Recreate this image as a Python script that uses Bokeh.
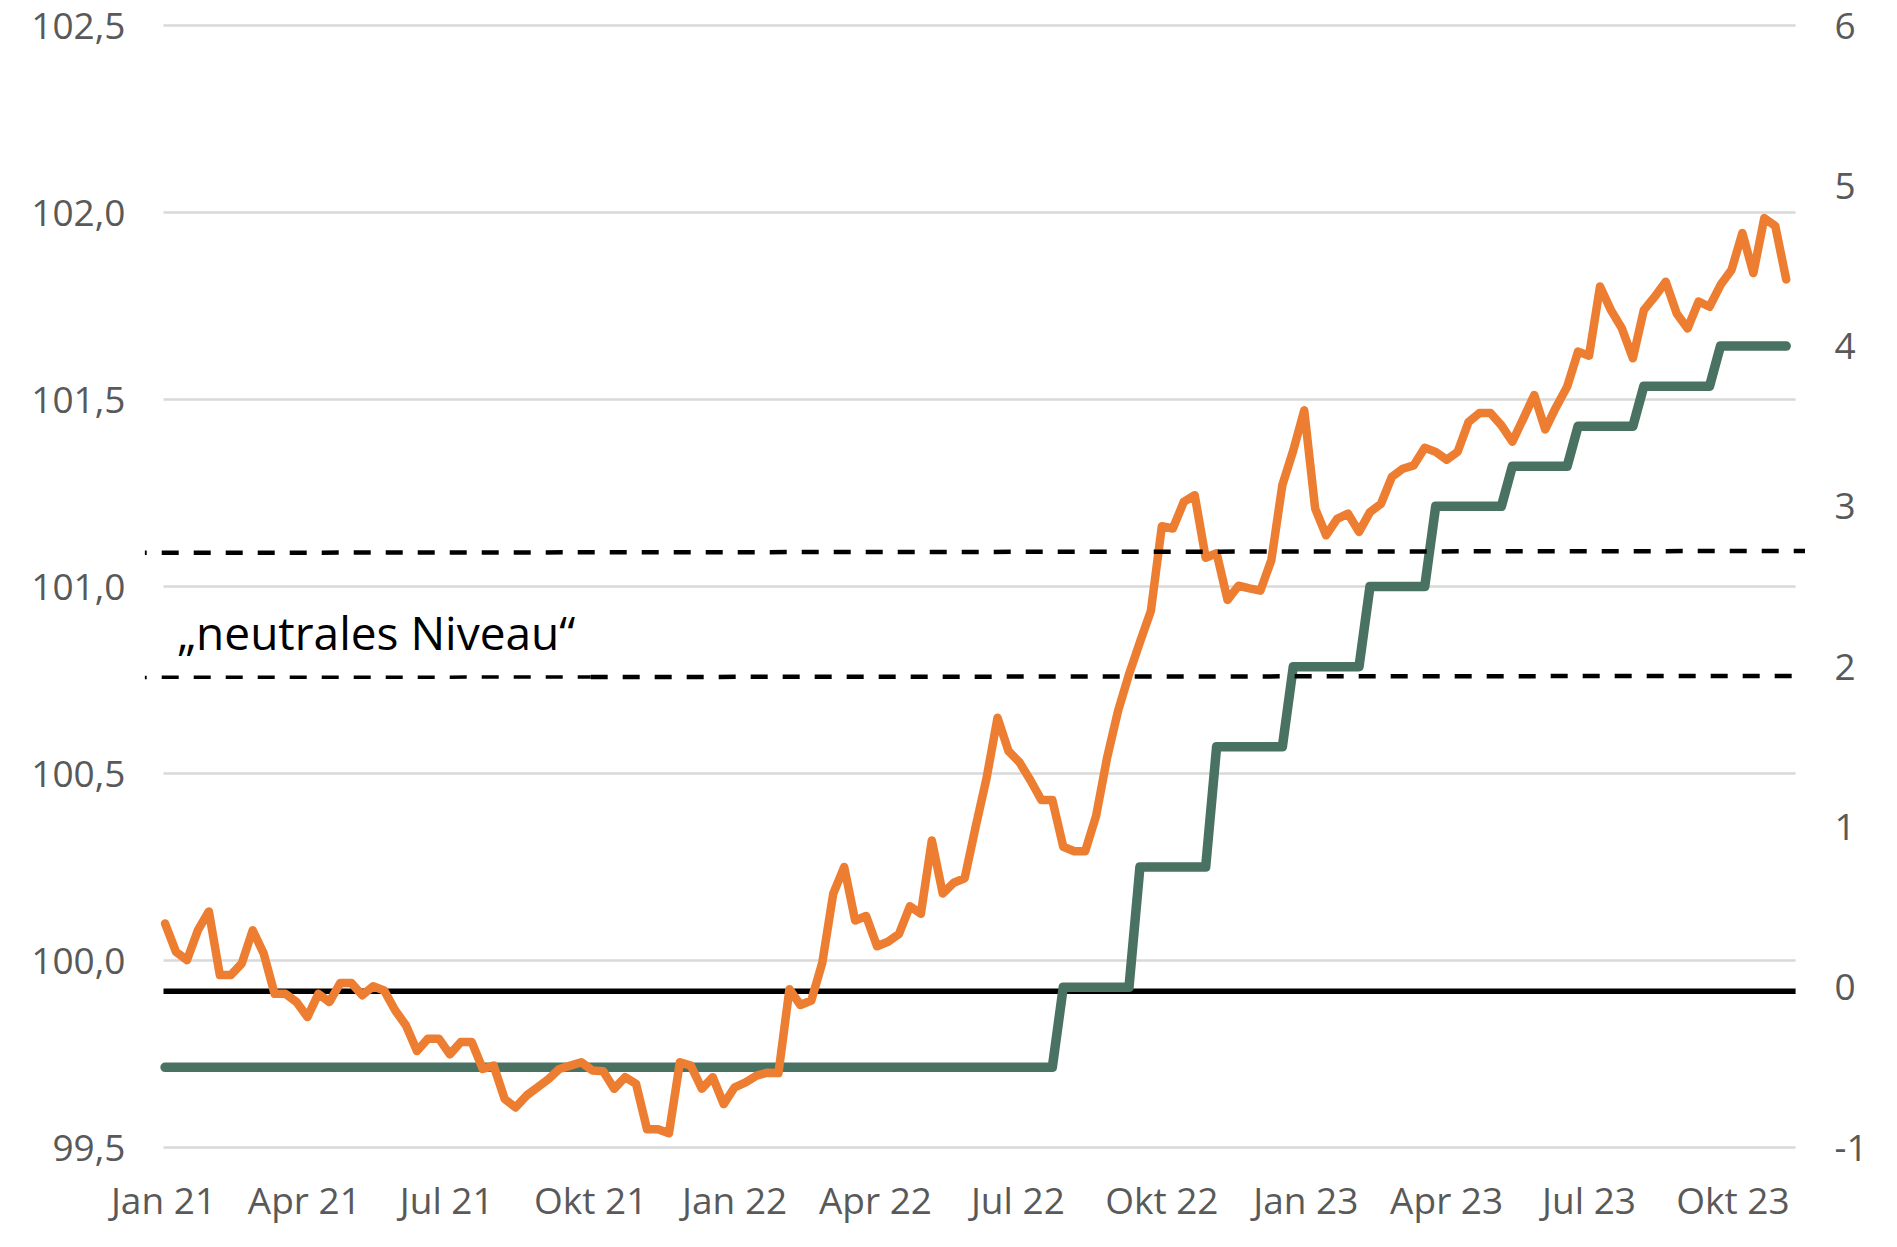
import pandas as pd
from bokeh.plotting import figure
from bokeh.models import Range1d, LinearAxis, FixedTicker, CustomJSTickFormatter
from bokeh.core.properties import value
from bokeh.embed import file_html
from bokeh.resources import INLINE

# ---------------- data ----------------
# weekly observations, first week 2021-01-02
first_week = "2021-01-02"

index_values = [
    100.099, 100.023, 100.001, 100.081, 100.131, 99.961, 99.961, 99.992, 100.081, 100.019,
    99.911, 99.911, 99.889, 99.849, 99.911, 99.889, 99.940, 99.940, 99.907, 99.931,
    99.920, 99.867, 99.826, 99.758, 99.791, 99.791, 99.749, 99.782, 99.782, 99.710,
    99.719, 99.630, 99.607, 99.639, 99.661, 99.683, 99.710, 99.719, 99.728, 99.706,
    99.704, 99.657, 99.688, 99.670, 99.549, 99.549, 99.538, 99.728, 99.719, 99.657,
    99.688, 99.616, 99.661, 99.674, 99.692, 99.700, 99.699, 99.923, 99.881, 99.893,
    99.994, 100.179, 100.250, 100.107, 100.119, 100.038, 100.050, 100.071, 100.145, 100.125,
    100.321, 100.179, 100.208, 100.220, 100.357, 100.488, 100.649, 100.560, 100.530, 100.482,
    100.429, 100.429, 100.304, 100.292, 100.292, 100.387, 100.542, 100.667, 100.765, 100.851,
    100.935, 101.161, 101.155, 101.226, 101.244, 101.077, 101.089, 100.964, 101.002, 100.995,
    100.989, 101.071, 101.271, 101.364, 101.471, 101.208, 101.137, 101.181, 101.195, 101.146,
    101.199, 101.221, 101.293, 101.315, 101.324, 101.371, 101.360, 101.339, 101.360, 101.440,
    101.464, 101.464, 101.431, 101.387, 101.449, 101.512, 101.420, 101.480, 101.534, 101.628,
    101.617, 101.802, 101.739, 101.690, 101.610, 101.739, 101.775, 101.815, 101.730, 101.690,
    101.762, 101.748, 101.806, 101.846, 101.945, 101.838, 101.985, 101.964, 101.821,
]

# ECB deposit facility rate, weekly (right axis)
deposit_rate = ([-0.5] * 82 + [0.0] * 7 + [0.75] * 7 + [1.5] * 7 + [2.0] * 7 + [2.5] * 6
                + [3.0] * 7 + [3.25] * 6 + [3.5] * 6 + [3.75] * 7 + [4.0] * 7)

# "neutrales Niveau" band (left-axis units), start / end
neutral_dates = ["2020-12-20", "2023-11-16"]
neutral_upper = [101.090, 101.095]
neutral_lower_a_dates = ["2020-12-20", "2021-10-01"]
neutral_lower_a = [100.757, 100.758]
neutral_lower_b_dates = ["2021-10-01", "2023-11-16"]
neutral_lower_b = [100.758, 100.761]
annotation = "„neutrales Niveau“"

tick_dates = ["2021-01-01", "2021-04-01", "2021-07-01", "2021-10-01",
              "2022-01-01", "2022-04-01", "2022-07-01", "2022-10-01",
              "2023-01-01", "2023-04-01", "2023-07-01", "2023-10-01"]
tick_labels = ["Jan 21", "Apr 21", "Jul 21", "Okt 21", "Jan 22", "Apr 22", "Jul 22",
               "Okt 22", "Jan 23", "Apr 23", "Jul 23", "Okt 23"]
left_ticks = [99.5, 100.0, 100.5, 101.0, 101.5, 102.0, 102.5]
right_ticks = [-1, 0, 1, 2, 3, 4, 5, 6]

# ---------------- helpers ----------------
def ms(ts):
    return int(pd.Timestamp(ts).value // 10**6)

DAY = 86400000
dates = pd.date_range(first_week, periods=len(index_values), freq="7D")
x = [ms(d) for d in dates]
t0 = ms("2021-01-01")
grid_x0, grid_x1 = t0, ms("2023-11-10")

FONT = "Open Sans"
LABEL_COLOR = "#595959"

p = figure(frame_width=1662, frame_height=1132,
           x_range=Range1d(t0 - 12.14 * DAY, t0 + 1049.97 * DAY),
           y_range=Range1d(99.5 - 5 / 374, 102.5 + 5 / 374),
           x_axis_type=None, y_axis_type=None, title=None,
           output_backend="svg", toolbar_location=None,
           min_border_left=144, min_border_right=80,
           min_border_top=20, min_border_bottom=85)
p.outline_line_color = None
p.background_fill_color = "white"
p.border_fill_color = "white"
p.extra_y_ranges = {"rate": Range1d(-1 - 5 / 160.29, 6 + 5 / 160.29)}

def style_axis(ax, standoff):
    ax.axis_line_color = None
    ax.major_tick_line_color = None
    ax.minor_tick_line_color = None
    ax.major_tick_in = 0
    ax.major_tick_out = 0
    ax.minor_tick_in = 0
    ax.minor_tick_out = 0
    ax.major_label_text_font = FONT
    ax.major_label_text_font_size = "37px"
    ax.major_label_text_color = LABEL_COLOR
    ax.major_label_standoff = standoff

tick_ms = [ms(d) for d in tick_dates]
xaxis = LinearAxis(ticker=FixedTicker(ticks=tick_ms),
                   formatter=CustomJSTickFormatter(
                       args=dict(tk=tick_ms, lb=tick_labels),
                       code="const i = tk.findIndex(t => Math.abs(t - tick) < 1e6);"
                            "return i >= 0 ? lb[i] : '';"))
style_axis(xaxis, 21)
p.add_layout(xaxis, "below")

yleft = LinearAxis(ticker=FixedTicker(ticks=left_ticks),
                   formatter=CustomJSTickFormatter(code="return tick.toFixed(1).replace('.', ',');"))
style_axis(yleft, 19)
p.add_layout(yleft, "left")

yright = LinearAxis(y_range_name="rate", ticker=FixedTicker(ticks=right_ticks),
                    formatter=CustomJSTickFormatter(code="return tick.toFixed(0);"))
style_axis(yright, 28)
p.add_layout(yright, "right")

# gridlines
p.segment(x0=[grid_x0] * len(left_ticks), x1=[grid_x1] * len(left_ticks),
          y0=left_ticks, y1=left_ticks, line_color="#D9D9D9", line_width=2.5)

# zero line of the rate axis
p.segment(x0=[grid_x0], x1=[grid_x1], y0=[-0.025], y1=[-0.025],
          line_color="black", line_width=5.5, y_range_name="rate")

# series
p.line(x, deposit_rate, y_range_name="rate", line_color="#497262", line_width=9.5,
       line_join="round", line_cap="round")
p.line(x, index_values, line_color="#ED7D31", line_width=8.5,
       line_join="round", line_cap="round")

# neutral level band
p.line([ms(d) for d in neutral_dates], neutral_upper, line_color="black", line_width=4.5,
       line_dash="17 15", line_dash_offset=15)
p.line([ms(d) for d in neutral_lower_a_dates], neutral_lower_a, line_color="black",
       line_width=3.5, line_dash="17 15", line_dash_offset=15)
p.line([ms(d) for d in neutral_lower_b_dates], neutral_lower_b, line_color="black",
       line_width=4.5, line_dash="17 15")

p.text(x=[ms("2021-01-09 20:00")], y=[100.878], text=[annotation],
       text_font=value(FONT), text_font_size="46px", text_color="black",
       text_align="left", text_baseline="alphabetic")

open("out.html", "w").write(file_html(p, INLINE))
